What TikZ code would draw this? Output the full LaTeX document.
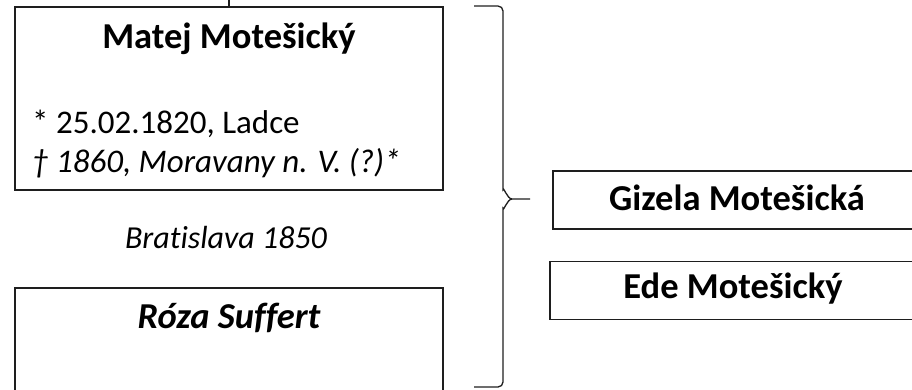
\documentclass[tikz,border=0pt]{standalone}
\usepackage{fontspec}
\setmainfont[Ligatures=NoCommon]{Carlito}
\usetikzlibrary{positioning}
\definecolor{boxline}{RGB}{30,30,30}

\begin{document}
\begin{tikzpicture}[x=1pt, y=-1pt, every node/.style={font=\fontsize{33}{38}\selectfont, inner sep=0pt},
  personbox/.style={draw=boxline, line width=1.6pt, minimum width=428pt},
  childbox/.style={draw=boxline, line width=1.6pt, minimum width=380pt, minimum height=58pt},
  namelabel/.style={font=\fontsize{36.5}{40}\selectfont\bfseries}]
\useasboundingbox (0,0) rectangle (912,389);
\clip (0,0) rectangle (912,389);
% parents
\coordinate (up) at (229,0);
\node[personbox, minimum height=183pt] (matej) at (229,98.5) {};
\draw[line width=1.6pt, boxline] (up) -- (matej.north);
\node[namelabel, anchor=base] (matejname) at (229,48) {Matej Motešický};
\node[anchor=base west] (born) at (32,133) {* 25.02.1820, Ladce};
\node[anchor=base west, font=\fontsize{33}{38}\selectfont\itshape] (died) at (32,172) {† 1860, Moravany n. V. (?)*};
\node[font=\fontsize{32}{38}\selectfont\itshape, anchor=base] (wedding) at (226,248) {Bratislava 1850};
\node[personbox, minimum height=120pt] (roza) at (229,348) {};
\node[namelabel, font=\fontsize{36.5}{40}\selectfont\bfseries\itshape, anchor=base] (rozaname) at (229,328) {Róza Suffert};
% brace
\draw[line width=1.3pt, boxline] (474,6) -- (498,6) to[out=0,in=90] (503,11) -- (503,190)
  to[out=90,in=180] (512,199) -- (530,199);
\draw[line width=1.3pt, boxline] (512,199) to[out=180,in=-90] (503,208) -- (503,382)
  to[out=-90,in=0] (498,387) -- (474,387);
% children
\node[childbox, anchor=north west] (gizela) at (552,170) {};
\node[namelabel, anchor=base] (gizelaname) at (737,210) {Gizela Motešická};
\node[childbox, below=31pt of gizela.south west, anchor=north west, xshift=-3pt] (ede) {};
\node[namelabel, anchor=base] (edename) at (733,298) {Ede Motešický};
\end{tikzpicture}
\end{document}
